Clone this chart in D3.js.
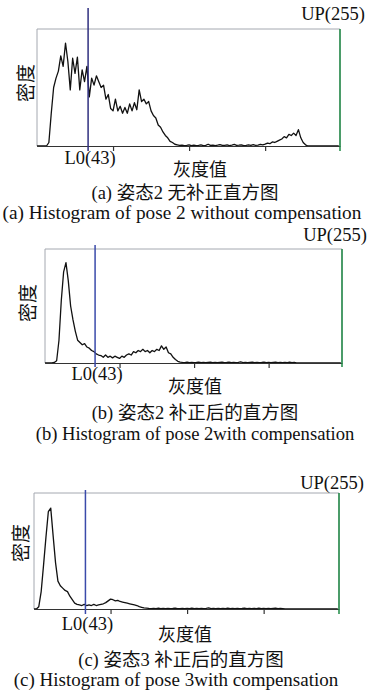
<!DOCTYPE html>
<html>
<head>
<meta charset="utf-8">
<script src="https://cdn.jsdelivr.net/npm/d3@7"></script>
<style>
  body { margin: 0; background: #fff; }
  text { font-family: "Liberation Serif", "Noto Sans CJK SC", serif; fill: #111; }
</style>
</head>
<body>
<div id="chart"></div>
<script>
////////////////////////////////////////////////////////////////////////
// Data: relative density (0-100 = box height), one value per 2 gray levels

// gray level of each sample (0,2,4,...,254)
let grayLevels = d3.range(0, 256, 2);

// (a) pose 2, no compensation
let densityA = [
  0, 0, 0, 0, 0, 3, 28, 50, 58, 64, 77, 68, 88, 72, 48, 75, 62, 76, 48, 65,
  55, 68, 42, 58, 52, 60, 55, 50, 52, 40, 44, 32, 30, 40, 30, 34, 28, 33, 28, 36,
  30, 37, 31, 48, 38, 40, 36, 38, 30, 26, 24, 18, 16, 12, 9, 7, 4, 3, 1.5, 1,
  0.5, 0.8, 0.3, 0.6, 1.0, 0.4, 0.7, 0.3, 0.5, 0.9, 0.4, 0.6, 1.5, 0.5, 0.8, 0.3, 0.7, 1.2, 0.5, 0.6,
  0.9, 0.4, 0.8, 1.3, 0.5, 0.7, 1.0, 0.4, 0.6, 0.9, 0.5, 1.1, 0.6, 0.8, 1.4, 0.9, 1.6,
  2.5, 2, 3.5, 3, 4, 5, 6, 8, 7, 10, 9, 11, 9, 14, 7, 3, 1,
  0, 0, 0, 0, 0, 0, 0, 0, 0, 0, 0, 0, 0, 0
];

// (b) pose 2, with compensation
let densityB = [
  0, 0, 0, 0, 0.5, 2, 20, 55, 80, 88, 72, 50, 38, 28, 20, 18, 16, 17, 14, 13,
  11, 10, 8, 7, 6.5, 5, 7, 5, 6, 4.5, 6, 5, 4, 6, 5, 7, 8, 7, 10, 9,
  11, 10, 12, 10, 11, 9, 11, 10, 12, 11, 15, 12, 14, 9, 8, 5, 3, 1.5, 0.8,
  0.5, 0.3, 0.7, 0.4, 0.6, 0.3, 0.5, 0.8, 0.4, 0.6, 0.3, 0.5, 0.7, 0.4, 0.5, 0.3, 0.6, 0.8, 0.4, 0.5,
  0.7, 0.3, 0.6, 0.4, 0.5, 0.9, 0.4, 0.6, 0.3, 0.5, 0.7, 0.4, 0.6, 0.3, 0.5, 0.8, 0.4, 0.6, 0.3, 0.5,
  0.7, 0.4, 0.5, 0.3, 0.6, 0.4, 0.7, 0.3, 0.5,
  0, 0, 0, 0, 0, 0, 0, 0, 0, 0, 0, 0, 0, 0, 0, 0, 0, 0, 0, 0
];

// (c) pose 3, with compensation
let densityC = [
  0, 0, 2, 15, 38, 62, 84, 87, 63, 40, 24, 20, 18, 16, 15, 11, 8, 5, 4, 3.5,
  3, 4, 3, 3.5, 3, 4, 3, 3.5, 4, 4.5, 5.5, 7, 8.5, 8, 7, 7.5, 6.5, 6, 5.5, 5,
  4.5, 4, 3.5, 3, 2, 1.5, 1, 0.8,
  0.5, 0.3, 0.6, 0.4, 0.7, 0.3, 0.5, 0.4, 0.6, 0.3, 0.5, 0.8, 0.4, 0.3, 0.6, 0.4, 0.5, 0.3, 0.7, 0.4,
  0.5, 0.3, 0.6, 0.4, 0.5, 0.9, 0.3, 0.5, 0.4, 0.6, 0.3, 0.5, 0.4, 0.7, 0.3, 0.5, 0.4, 0.6, 0.3, 0.5,
  0.8, 0.4, 0.5, 0.3, 0.6, 0.4, 0.7, 0.3, 0.5, 0.4, 0.6, 0.3, 0.5, 0.7, 0.4, 0.5, 0.3,
  0, 0, 0, 0, 0, 0, 0, 0, 0, 0, 0, 0, 0, 0, 0, 0, 0, 0, 0, 0, 0, 0, 0
];

// thresholds and ticks
let lowThreshold = 43;
let upThreshold = 255;
let tickValues = [64, 128, 192];

// texts
let yLabel = "密度";
let xLabel = "灰度值";
let captionsCn = ["(a) 姿态2 无补正直方图", "(b) 姿态2 补正后的直方图", "(c) 姿态3 补正后的直方图"];
let captionsEn = ["(a) Histogram of pose 2 without compensation",
                  "(b) Histogram of pose 2with compensation",
                  "(c) Histogram of pose 3with compensation"];

////////////////////////////////////////////////////////////////////////
// Layout of the three panels (pixel positions only)

let layout = [
  {l: 37, r: 340, t: 29,  b: 146, lineTop: 8,   lineBot: 151, upY: 20,  l0Y: 164, xlX: 200, xlY: 176,
   ylX: 26, ylY: 83,  capX: 185, capY: 199, enX: 182, enY: 219, enSize: 19.3, blue: "#2f2f7f"},
  {l: 45, r: 342, t: 249, b: 363, lineTop: 245, lineBot: 367, upY: 241, l0Y: 380, xlX: 195, xlY: 393,
   ylX: 28, ylY: 303, capX: 195, capY: 419, enX: 195, enY: 440, enSize: 18.6, blue: "#3a4aaa"},
  {l: 34, r: 339, t: 493, b: 609, lineTop: 490, lineBot: 614, upY: 489, l0Y: 630, xlX: 185, xlY: 641,
   ylX: 21, ylY: 543, capX: 181, capY: 666, enX: 176, enY: 686, enSize: 19, blue: "#3a4aaa"}
];

let panels = [densityA, densityB, densityC];

let width = 376;
let height = 697;

let svg = d3.select("#chart")
  .append("svg")
  .attr("width", width).attr("height", height);

////////////////////////////////////////////////////////////////////////
// Draw each panel

panels.forEach(function(density, i) {
  let p = layout[i];
  let g = svg.append("g");

  let xScale = d3.scaleLinear().domain([0, 255]).range([p.l, p.r]);
  let yScale = d3.scaleLinear().domain([0, 100]).range([p.b, p.t]);

  // grey frame (top, left, right)
  g.append("path")
    .attr("d", "M" + p.l + "," + p.b + "V" + p.t + "H" + p.r + "V" + p.b)
    .attr("fill", "none")
    .attr("stroke", "#a4a8b0")
    .attr("stroke-width", 1);

  // histogram line
  let line = d3.line()
    .x(function(d, j) { return xScale(grayLevels[j]); })
    .y(function(d) { return yScale(d); });

  g.append("path")
    .datum(density)
    .attr("d", line)
    .attr("fill", "none")
    .attr("stroke", "#111")
    .attr("stroke-width", 1.3)
    .attr("stroke-linejoin", "round");

  // baseline with small ticks
  let axis = d3.axisBottom(xScale)
    .tickValues(tickValues)
    .tickSize(5)
    .tickSizeOuter(0)
    .tickFormat("");

  g.append("g")
    .attr("transform", "translate(0," + p.b + ")")
    .call(axis)
    .call(function(a) { a.selectAll("path, line").attr("stroke", "#333").attr("stroke-width", 1.2); });

  // L0 threshold (blue) and UP threshold (green)
  g.append("line")
    .attr("x1", xScale(lowThreshold)).attr("x2", xScale(lowThreshold))
    .attr("y1", p.lineTop).attr("y2", p.lineBot)
    .attr("stroke", p.blue).attr("stroke-width", 1.5);

  g.append("line")
    .attr("x1", xScale(upThreshold)).attr("x2", xScale(upThreshold))
    .attr("y1", p.t).attr("y2", p.lineBot)
    .attr("stroke", "#1e8a44").attr("stroke-width", 1.5);

  // labels
  g.append("text")
    .attr("x", xScale(upThreshold) - 7).attr("y", p.upY)
    .attr("text-anchor", "middle").style("font-size", "18.5px")
    .text("UP(" + upThreshold + ")");

  g.append("text")
    .attr("x", xScale(lowThreshold) + 2).attr("y", p.l0Y)
    .attr("text-anchor", "middle").style("font-size", "18.5px")
    .text("L0(" + lowThreshold + ")");

  g.append("text")
    .attr("x", p.xlX).attr("y", p.xlY)
    .attr("text-anchor", "middle").style("font-size", "18px")
    .text(xLabel);

  g.append("text")
    .attr("transform", "translate(" + p.ylX + "," + p.ylY + ") rotate(-90)")
    .attr("text-anchor", "middle").attr("dy", "0.35em")
    .style("font-size", "19px")
    .text(yLabel);

  g.append("text")
    .attr("x", p.capX).attr("y", p.capY)
    .attr("text-anchor", "middle").style("font-size", "18.5px")
    .text(captionsCn[i]);

  g.append("text")
    .attr("x", p.enX).attr("y", p.enY)
    .attr("text-anchor", "middle").style("font-size", p.enSize + "px")
    .text(captionsEn[i]);
});
</script>
</body>
</html>
